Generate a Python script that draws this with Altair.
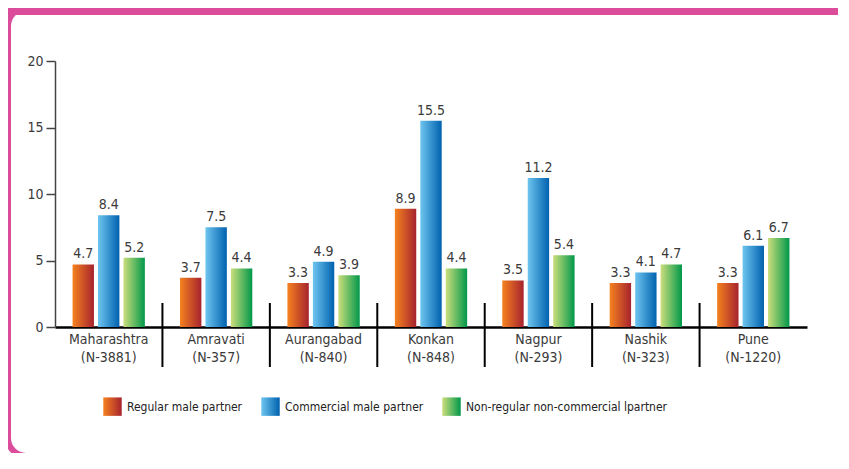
import altair as alt
import pandas as pd

# ---- data ----
regions = ["Maharashtra", "Amravati", "Aurangabad", "Konkan", "Nagpur", "Nashik", "Pune"]
sample_sizes = ["N-3881", "N-357", "N-840", "N-848", "N-293", "N-323", "N-1220"]
series = ["Regular male partner", "Commercial male partner", "Non-regular non-commercial lpartner"]
regular = [4.7, 3.7, 3.3, 8.9, 3.5, 3.3, 3.3]
commercial = [8.4, 7.5, 4.9, 15.5, 11.2, 4.1, 6.1]
nonregular = [5.2, 4.4, 3.9, 4.4, 5.4, 4.7, 6.7]
y_ticks = [0, 5, 10, 15, 20]

labels = [f"{r}|({n})" for r, n in zip(regions, sample_sizes)]
rows = []
for i, lab in enumerate(labels):
    for s, vals in zip(series, [regular, commercial, nonregular]):
        rows.append({"label": lab, "series": s, "value": vals[i]})
df = pd.DataFrame(rows)
div_df = pd.DataFrame({"label": labels[1:]})

FONT = "DejaVu Sans Condensed, Liberation Sans Narrow, Roboto, sans-serif"
PINK = "#DB4D9B"
TXT = "#3a3a3a"


def grad(c1, c2):
    return {"expr": "{gradient: 'linear', x1: 0, y1: 0, x2: 1, y2: 0, stops: ["
                    f"{{offset: 0, color: '{c1}'}}, {{offset: 1, color: '{c2}'}}]}}"}


color_range = [grad("#F5821F", "#A6232E"), grad("#6EC5EF", "#0061AE"), grad("#CCDE7C", "#00984A")]

x_enc = alt.X("label:N", sort=labels,
              scale=alt.Scale(paddingInner=0, paddingOuter=0),
              axis=alt.Axis(title=None, ticks=False, domainColor="#000", domainWidth=2.5,
                            labelAngle=0, labelFontSize=14, labelColor=TXT, labelFont=FONT,
                            labelExpr="split(datum.label, '|')", labelLineHeight=18,
                            labelPadding=5))
xo_enc = alt.XOffset("series:N", sort=series,
                     scale=alt.Scale(paddingInner=0.16, paddingOuter=0.69))
y_enc = alt.Y("value:Q", scale=alt.Scale(domain=[0, 20], nice=False),
              axis=alt.Axis(title=None, values=y_ticks, grid=False, domainColor="#444",
                            domainWidth=1.5, tickColor="#444", tickWidth=1.5, tickSize=9,
                            labelFontSize=14, labelColor=TXT, labelFont=FONT,
                            labelPadding=3))

base = alt.Chart(df)

bars = base.mark_bar().encode(
    x=x_enc, xOffset=xo_enc, y=y_enc,
    color=alt.Color("series:N", sort=series,
                    scale=alt.Scale(domain=series, range=color_range),
                    legend=alt.Legend(orient="none", legendX=48, legendY=336,
                                      direction="horizontal", columns=3, title=None,
                                      symbolType="square", symbolSize=340,
                                      symbolStrokeWidth=0, labelLimit=0,
                                      labelFontSize=12, labelFont=FONT, labelColor="#222",
                                      columnPadding=18, labelOffset=5)),
)

texts = base.mark_text(baseline="bottom", dy=-3, fontSize=14, color=TXT, font=FONT).encode(
    x=alt.X("label:N", sort=labels), xOffset=alt.XOffset("series:N", sort=series),
    y="value:Q", text=alt.Text("value:Q", format=".1f"),
)

dividers = alt.Chart(div_df).mark_rule(color="#000", strokeWidth=2).encode(
    x=alt.X("label:N", sort=labels, bandPosition=0),
    y=alt.value(242), y2=alt.value(306),
)

frame_top = alt.Chart(alt.Data(values=[{}])).mark_rect(color=PINK).encode(
    x=alt.value(-47), x2=alt.value(800), y=alt.value(-53), y2=alt.value(-46),
)
frame = alt.Chart(alt.Data(values=[{}])).mark_rect(
    fill="transparent", stroke=PINK, strokeWidth=6, cornerRadius=18).encode(
    x=alt.value(-47), x2=alt.value(810), y=alt.value(-53), y2=alt.value(395),
)

chart = alt.layer(frame, frame_top, bars, texts, dividers).properties(
    width=752, height=266,
    autosize=alt.AutoSizeParams(type="none"),
    padding={"left": 47, "top": 53, "right": 31, "bottom": 126},
).configure_view(strokeWidth=0)

chart.save("out.html", embed_options={"renderer": "svg", "actions": False})
